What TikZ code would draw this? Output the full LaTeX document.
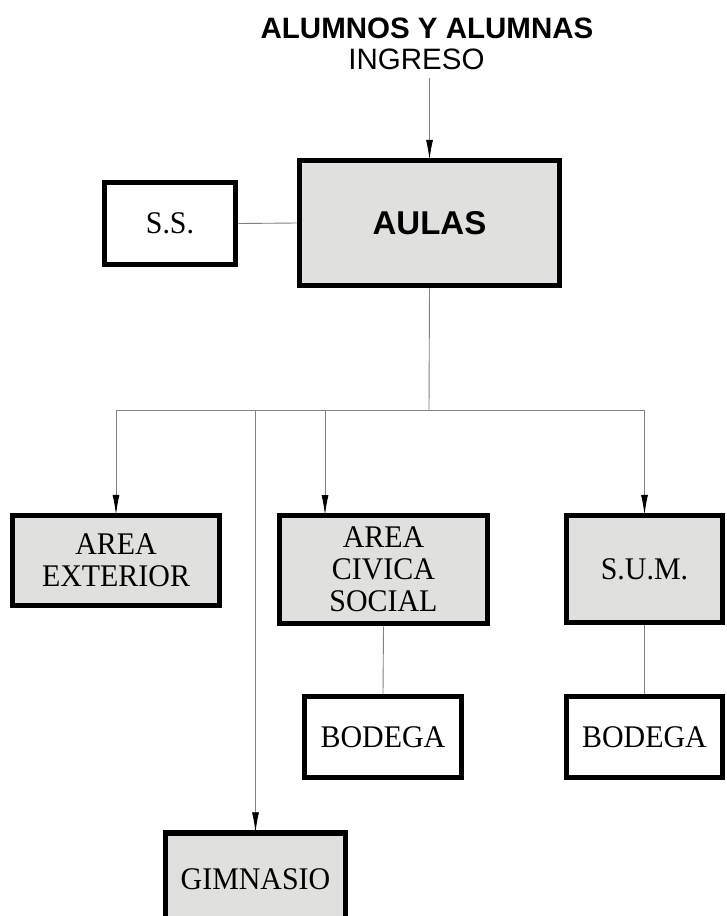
\documentclass[tikz,border=0pt]{standalone}
\usepackage{fontspec}
\setmainfont{Liberation Serif}[FakeStretch=0.95]
\newfontfamily\arialfont{Liberation Sans}
\usetikzlibrary{arrows.meta}
\definecolor{boxgray}{RGB}{224,224,222}
\definecolor{conngray}{RGB}{130,130,130}
\tikzset{
  box/.style={draw=black, line width=5.5pt, fill=white, align=center, inner sep=0pt,
    font=\fontsize{31.5}{32}\selectfont},
  graybox/.style={box, fill=boxgray},
  conn/.style={draw=conngray, line width=0.9pt},
  arr/.style={conn, -{Latex[length=20pt,width=7pt,color=black]}, shorten >=-2pt},
}
\begin{document}
\begin{tikzpicture}[x=1pt,y=-1pt]
\useasboundingbox[fill=white] (0,0) rectangle (726,916);
\begin{scope}
\clip (0,0) rectangle (726,916);
\node[font=\arialfont\bfseries\fontsize{29.5}{31}\selectfont, anchor=base] (title) at (427,38) {ALUMNOS Y ALUMNAS};
\node[font=\arialfont\fontsize{29.5}{31}\selectfont, anchor=base] (ingreso) at (416.5,69) {INGRESO};
\node[graybox, minimum width=260pt, minimum height=125pt, font=\arialfont\bfseries\fontsize{33}{35}\selectfont] (aulas) at (429.5,223) {AULAS};
\node[box, minimum width=131pt, minimum height=82pt] (ss) at (170,223.5) {S.S.};
\node[graybox, minimum width=207pt, minimum height=90pt] (ext) at (116,560.5) {AREA\\EXTERIOR};
\node[graybox, minimum width=208pt, minimum height=108pt] (civ) at (383.5,569.5) {AREA\\CIVICA\\SOCIAL};
\node[graybox, minimum width=156pt, minimum height=107pt] (sum) at (644.5,569) {S.U.M.};
\node[box, minimum width=157pt, minimum height=81pt] (bod1) at (383,737) {BODEGA};
\node[box, minimum width=156pt, minimum height=81pt] (bod2) at (644.5,737) {BODEGA};
\node[graybox, minimum width=180pt, minimum height=92pt] (gim) at (255.5,879) {GIMNASIO};
\coordinate (bus) at (429,410);
\coordinate (civin) at (325,513);
\coordinate (ingin) at (429,78);
\draw[arr] (ingin) -- (aulas.north |- ingin) -- (aulas.north);
\draw[conn] (ss.east) -- (aulas.west);
\draw[conn] (aulas.south) -- (bus);
\draw[conn] (ext.north |- bus) -- (sum.north |- bus);
\draw[arr] (ext.north |- bus) -- (ext.north);
\draw[arr] (civin |- bus) -- (civin);
\draw[arr] (sum.north |- bus) -- (sum.north);
\draw[arr] (gim.north |- bus) -- (gim.north);
\draw[conn] (civ.south) -- (bod1.north);
\draw[conn] (sum.south) -- (bod2.north);
\end{scope}
\end{tikzpicture}
\end{document}
